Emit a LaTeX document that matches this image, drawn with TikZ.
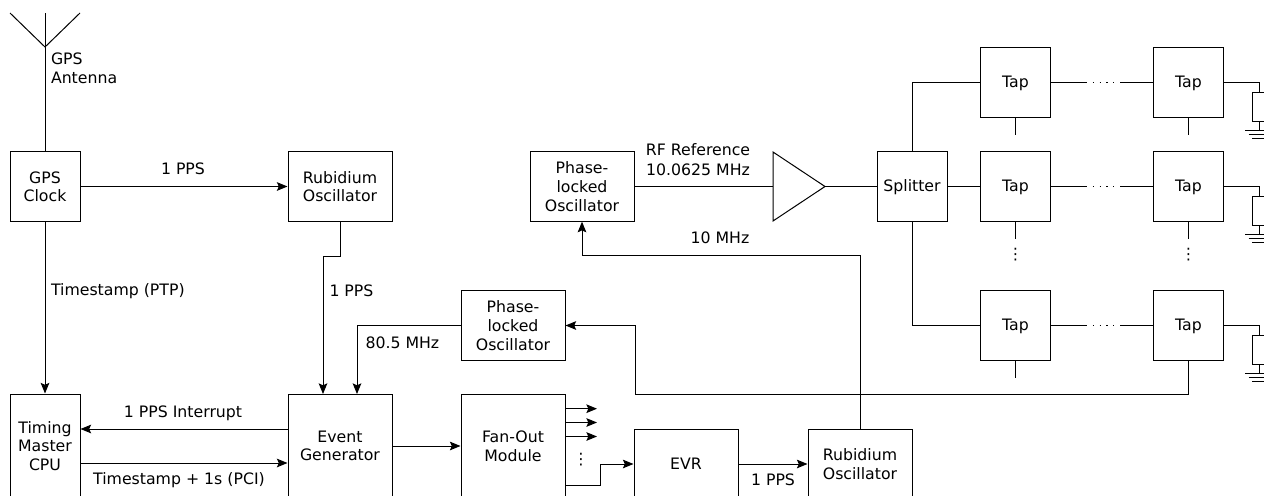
\documentclass[tikz,border=0pt]{standalone}
\usepackage{fontspec}
\setmainfont{DejaVu Sans}
\usetikzlibrary{arrows.meta}
\tikzset{
	block/.style={draw, align=center, inner sep=0pt, minimum width=52.5pt, minimum height=52pt},
	wideblock/.style={block, minimum width=78pt},
	tallblock/.style={block, minimum height=78pt},
	tapblock/.style={block, text depth=1pt},
	link/.style={-{Stealth[length=8pt, width=6.5pt, inset=1.5pt]}},
	label/.style={inner sep=0pt, align=center},
	leftlabel/.style={inner sep=0pt, align=left, anchor=west},
	dotrow/.style={dash pattern=on 0.9pt off 4.2pt},
}
\begin{document}
\begin{tikzpicture}[x=0.75pt, y=-0.75pt, line width=0.75pt, font=\fontsize{11.8}{14}\selectfont]
	\useasboundingbox (0,0) rectangle (1264,496);
	\clip (0,0) rectangle (1264,496);

	% Timing chain
	\node[block, text depth=-1.5pt] (gpsclock) at (45,186.5) {GPS\\Clock};
	\node[wideblock, text depth=-1.5pt] (rbtop) at (340,186.5) {Rubidium\\Oscillator};
	\node[tallblock] (cpu) at (45,446) {Timing\\Master\\CPU};
	\node[wideblock, minimum height=78pt] (evg) at (340,446) {Event\\Generator};
	\node[wideblock, minimum height=78pt] (fanout) at (513,446) {Fan-Out\\Module};
	\node[wideblock] (plllow) at (513,325.5) {Phase-\\locked\\Oscillator};
	\node[wideblock] (evr) at (686,464) {EVR};
	\node[wideblock] (rbbot) at (860,464) {Rubidium\\Oscillator};

	% GPS antenna
	\coordinate (anttop) at (45,13);
	\coordinate (antmid) at (45,47);
	\draw (anttop) -- (gpsclock.north);
	\draw (10,13) -- (antmid) -- (80,13);
	\node[leftlabel] (antlabel) at (50.5,68) {GPS\\Antenna};

	\draw[link] (gpsclock) -- (rbtop);
	\node[label] (ppsa) at (183,169) {1 PPS};
	\draw[link] (gpsclock) -- (cpu);
	\node[leftlabel] (ptp) at (50.5,291) {Timestamp (PTP)};
	\draw[link] (rbtop.south) --++ (0,35) -| (323,394);
	\node[leftlabel] (ppsb) at (329,291) {1 PPS};
	\draw[link] (evg.west |- 0,429) -- (cpu.east |- 0,429);
	\node[label] (irq) at (183,413) {1 PPS Interrupt};
	\draw[link] (cpu.east |- 0,463) -- (evg.west |- 0,463);
	\node[label] (pci) at (179,480) {Timestamp + 1s (PCI)};
	\draw[link] (evg) -- (fanout);
	\draw[link] (plllow.west) -| (357,394);
	\node[leftlabel] (fpll) at (365,343) {80.5 MHz};

	% Fan-out
	\foreach \y in {408.7,422.5,436.5}{
		\draw[link] (565,\y) -- (597,\y);
	}
	\node[label] (fandots) at (581,459.5) {⋮};
	\draw[link] (565,485) -| (600,464) -- (evr.west);
	\draw[link] (evr) -- (rbbot);
	\node[label] (ppsc) at (773,480) {1 PPS};

	% RF reference
	\node[wideblock] (plltop) at (582,186.5) {Phase-\\locked\\Oscillator};
	\coordinate (ampin) at (773,186.5);
	\coordinate (ampout) at (825,186.5);
	\draw (773,152) -- (ampout) -- (773,221) -- cycle;
	\node[tapblock] (splitter) at (912,186.5) {Splitter};
	\draw (plltop) -- (ampin);
	\node[label] (rflabel) at (698,159.5) {RF Reference\\[1.5pt]10.0625 MHz};
	\draw (ampout) -- (splitter);
	\draw[link] (rbbot.north) --++ (0,-173) -| (plltop.south);
	\node[label] (tenmhz) at (720,238) {10 MHz};

	% Tap rows
	\foreach \row/\y in {a/82.5,b/186.5,c/325.5}{
		\node[tapblock] (tap\row l) at (1015.5,\y) {Tap};
		\node[tapblock] (tap\row r) at (1188.5,\y) {Tap};
		\coordinate (dot\row l) at (1086,\y);
		\coordinate (dot\row r) at (1120,\y);
		\coordinate (res\row t) at (1259,\y+10);
		\coordinate (res\row b) at (1259,\y+39);
		\draw (tap\row l) -- (dot\row l);
		\draw[dotrow] (dot\row l) -- (dot\row r);
		\draw (dot\row r) -- (tap\row r);
		\draw (tap\row r) -| (res\row t);
		\draw (1252,\y+10) rectangle (1266,\y+39);
		\draw (res\row b) --++ (0,9);
		\draw (1245,\y+48) -- (1273,\y+48);
		\draw (1248.5,\y+52) -- (1269.5,\y+52);
		\draw (1252,\y+56) -- (1266,\y+56);
		\draw (tap\row l.south) --++ (0,17);
	}
	\draw (tapar.south) --++ (0,17);
	\draw (tapbr.south) --++ (0,17);
	\draw (splitter) -- (tapbl);
	\draw (splitter.north) |- (tapal);
	\draw (splitter.south) |- (tapcl);
	\node[label] (tapdotsl) at (1015.5,255) {⋮};
	\node[label] (tapdotsr) at (1188.5,255) {⋮};

	% Feedback from last tap
	\draw[link] (tapcr.south) --++ (0,34) -| (635,325.5) -- (plllow.east);
\end{tikzpicture}
\end{document}
